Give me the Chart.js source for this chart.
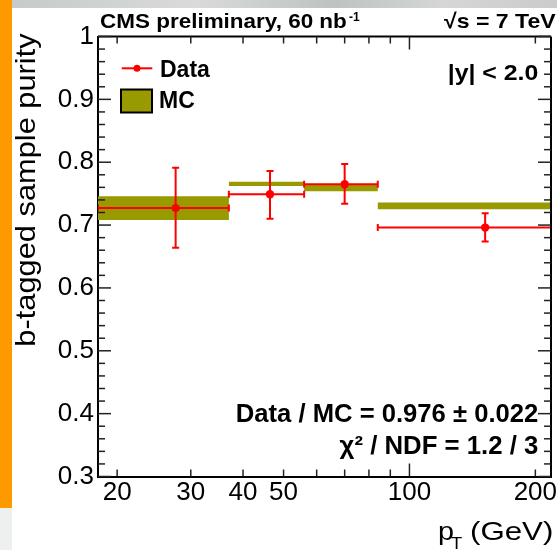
<!DOCTYPE html>
<html>
<head>
<meta charset="utf-8">
<script src="https://cdn.jsdelivr.net/npm/chart.js@4.4.1/dist/chart.umd.min.js"></script>
<style>
html, body { margin: 0; padding: 0; background: #fff; overflow: hidden; }
#wrap { position: relative; width: 557px; height: 550px; }
#topband { position: absolute; left: 0; top: 0; width: 557px; height: 8px;
  background: linear-gradient(90deg, #c6cac6, #d8dbd8 35%, #bfc3bf 60%, #d4d7d4 80%, #c9ccc9); }
#orange { position: absolute; left: 0; top: 0; width: 12px; height: 508px; background: #ff9900; }
#corner { position: absolute; left: 0; top: 508px; width: 12px; height: 42px; background: #edf0ee; }
canvas { position: absolute; left: 0; top: 0; }
</style>
</head>
<body>
<div id="wrap">
  <div id="topband"></div>
  <div id="orange"></div>
  <div id="corner"></div>
  <canvas id="grafico" width="557" height="550"></canvas>
</div>
<script>
// bins in pT (GeV)
const binEdges = [18, 37, 56, 84, 300];
const dataX = [27.6, 46.4, 70.0, 151.7];
const dataY = [0.727, 0.749, 0.765, 0.696];
const dataErrUp = [0.064, 0.037, 0.032, 0.023];
const dataErrDown = [0.063, 0.039, 0.031, 0.022];
const mcY = [0.727, 0.7655, 0.759, 0.7305];
const mcErr = [0.019, 0.0035, 0.005, 0.0055];

const xTickLabels = [20, 30, 40, 50, 100, 200];
const xMinorTicks = [20, 30, 40, 50, 60, 70, 80, 90, 200];
const xMajorTicks = [100];
const yTickLabels = [0.3, 0.4, 0.5, 0.6, 0.7, 0.8, 0.9, 1];

const FONT = '"Liberation Sans", Arial, sans-serif';
const ROJO = "#ff0000";
const OLIVA = "#999900";

// MC band: upper / lower stepped lines, filled between
const nb = mcY.length;
const mcUpper = binEdges.map((e, i) => ({ x: e, y: mcY[Math.min(i, nb - 1)] + mcErr[Math.min(i, nb - 1)] }));
const mcLower = binEdges.map((e, i) => ({ x: e, y: mcY[Math.min(i, nb - 1)] - mcErr[Math.min(i, nb - 1)] }));

// error bars, broken with null points
let hErr = [];
let vErr = [];
for (let i = 0; i < dataY.length; i++) {
    hErr.push({ x: binEdges[i], y: dataY[i] }, { x: binEdges[i + 1], y: dataY[i] }, { x: binEdges[i + 1], y: null });
    vErr.push({ x: dataX[i], y: dataY[i] - dataErrDown[i] }, { x: dataX[i], y: dataY[i] + dataErrUp[i] }, { x: dataX[i], y: null });
}
const puntos = dataX.map((x, i) => ({ x: x, y: dataY[i] }));

function texto(ctx, s, x, y, font, align, sx) {
    ctx.save();
    ctx.font = font;
    ctx.textAlign = align || "left";
    ctx.textBaseline = "alphabetic";
    ctx.fillStyle = "#000";
    ctx.translate(x, y);
    ctx.scale(sx || 1, 1);
    ctx.fillText(s, 0, 0);
    ctx.restore();
}

function linea(ctx, x1, y1, x2, y2) {
    ctx.beginPath();
    ctx.moveTo(x1, y1);
    ctx.lineTo(x2, y2);
    ctx.stroke();
}

const marcoRoot = {
    id: "marcoRoot",
    afterDraw(chart) {
        const ctx = chart.ctx;
        const a = chart.chartArea;
        const sx = chart.scales.x, sy = chart.scales.y;
        ctx.save();
        ctx.strokeStyle = "#000";
        ctx.lineWidth = 2;
        linea(ctx, a.left, a.top, a.right, a.top);
        linea(ctx, a.right, a.top, a.right, a.bottom);

        // inward ticks, all four sides
        ctx.lineWidth = 1.5;
        ctx.strokeStyle = "#222";
        for (let k = 0; k <= 35; k++) {
            const v = 0.3 + k * 0.02;
            const py = sy.getPixelForValue(v);
            const len = (k % 5 === 0) ? 13 : 7;
            linea(ctx, a.left, py, a.left + len, py);
            linea(ctx, a.right, py, a.right - len, py);
        }
        xMinorTicks.concat(xMajorTicks).forEach(v => {
            const px = sx.getPixelForValue(v);
            const len = xMajorTicks.includes(v) ? 13 : 7;
            linea(ctx, px, a.bottom, px, a.bottom - len);
            linea(ctx, px, a.top, px, a.top + len);
        });

        // title line
        texto(ctx, "CMS preliminary, 60 nb", 100, 28, "bold 21px " + FONT, "left", 1.07);
        texto(ctx, "-1", 349, 21, "bold 12px " + FONT, "left", 1);
        texto(ctx, "\u221As = 7 TeV", 444, 28, "bold 21px " + FONT, "left", 1.1);
        texto(ctx, "|y| < 2.0", 538.3, 80, "bold 22px " + FONT, "right", 1.13);

        // legend
        ctx.strokeStyle = ROJO;
        ctx.lineWidth = 2;
        linea(ctx, 121.7, 68.3, 152.3, 68.3);
        ctx.fillStyle = ROJO;
        ctx.beginPath();
        ctx.arc(137, 68.3, 3.5, 0, Math.PI * 2);
        ctx.fill();
        texto(ctx, "Data", 160, 76.7, "bold 23px " + FONT, "left", 1);
        ctx.fillStyle = OLIVA;
        ctx.fillRect(121, 89.5, 31, 23);
        ctx.strokeStyle = "#000";
        ctx.lineWidth = 2;
        ctx.strokeRect(121, 89.5, 31, 23);
        texto(ctx, "MC", 159, 108.3, "bold 23px " + FONT, "left", 1);

        // fit results
        texto(ctx, "Data / MC = 0.976 \u00B1 0.022", 538.3, 421.7, "bold 25px " + FONT, "right", 1.025);
        texto(ctx, "\u03C7\u00B2 / NDF = 1.2 / 3", 538.3, 454.3, "bold 25px " + FONT, "right", 1.03);

        // axis titles
        ctx.save();
        ctx.translate(35, 190);
        ctx.rotate(-Math.PI / 2);
        texto(ctx, "b-tagged sample purity", 0, 0, "28px " + FONT, "center", 1.1);
        ctx.restore();
        texto(ctx, "p", 438, 540, "25px " + FONT, "left", 1.15);
        texto(ctx, "T", 451, 549, "16px " + FONT, "left", 1.15);
        texto(ctx, "(GeV)", 470, 540, "25px " + FONT, "left", 1.25);
        ctx.restore();
    }
};

let ctx = document.getElementById("grafico").getContext("2d");

new Chart(ctx, {
    type: "line",
    data: {
        datasets: [
            {
                label: "Data",
                data: puntos,
                showLine: false,
                pointStyle: "circle",
                pointRadius: 4.2,
                pointBackgroundColor: ROJO,
                pointBorderColor: ROJO,
                pointBorderWidth: 0
            },
            {
                label: "vErr",
                data: vErr,
                borderColor: ROJO,
                borderWidth: 2,
                pointStyle: "line",
                pointRotation: 0,
                pointRadius: 3.5,
                pointBorderColor: ROJO,
                pointBorderWidth: 2
            },
            {
                label: "hErr",
                data: hErr,
                borderColor: ROJO,
                borderWidth: 2,
                pointStyle: "line",
                pointRotation: 90,
                pointRadius: 3.5,
                pointBorderColor: ROJO,
                pointBorderWidth: 2
            },
            {
                label: "MC up",
                data: mcUpper,
                stepped: "before",
                borderWidth: 0,
                borderColor: "rgba(0,0,0,0)",
                pointRadius: 0,
                fill: false
            },
            {
                label: "MC",
                data: mcLower,
                stepped: "before",
                borderWidth: 0,
                borderColor: "rgba(0,0,0,0)",
                backgroundColor: OLIVA,
                pointRadius: 0,
                fill: "-1"
            }
        ]
    },
    options: {
        responsive: false,
        animation: false,
        events: [],
        layout: { padding: { left: 0, top: 36.5, right: 1, bottom: 33.5 } },
        scales: {
            x: {
                type: "logarithmic",
                min: 18,
                max: 218,
                bounds: "data",
                grid: { display: false, drawTicks: false },
                border: { display: true, color: "#000", width: 2 },
                afterBuildTicks: s => { s.ticks = xTickLabels.map(v => ({ value: v })); },
                afterFit: s => { s.height = 40; s.paddingLeft = 0; s.paddingRight = 0; },
                ticks: {
                    autoSkip: false,
                    maxRotation: 0,
                    padding: 1,
                    color: "#000",
                    font: { family: FONT, size: 26 },
                    callback: v => String(v)
                }
            },
            y: {
                min: 0.3,
                max: 1.0,
                grid: { display: false, drawTicks: false },
                border: { display: true, color: "#000", width: 2 },
                afterBuildTicks: s => { s.ticks = yTickLabels.map(v => ({ value: v })); },
                afterFit: s => { s.width = 98; s.paddingTop = 0; s.paddingBottom = 0; },
                ticks: {
                    padding: 4,
                    color: "#000",
                    font: { family: FONT, size: 26 },
                    callback: v => String(Math.round(v * 10) / 10)
                }
            }
        },
        plugins: {
            legend: { display: false },
            tooltip: { enabled: false }
        }
    },
    plugins: [marcoRoot]
});
</script>
</body>
</html>
